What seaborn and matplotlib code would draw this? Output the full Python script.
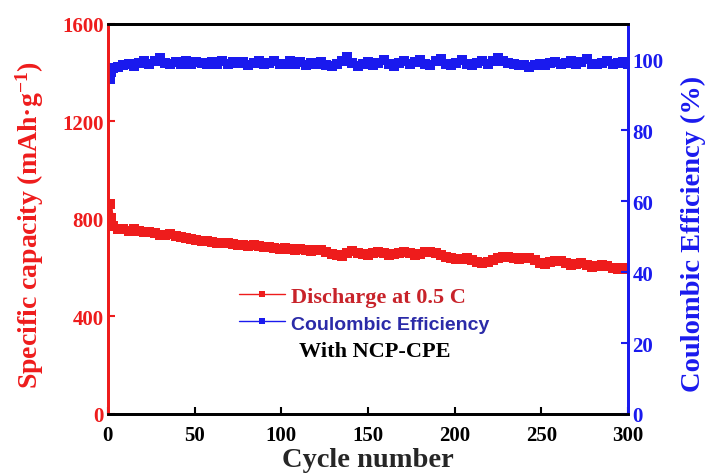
import matplotlib
matplotlib.use("Agg")
import matplotlib.pyplot as plt
import seaborn as sns

# cycle numbers
cycles = [1, 2, 3] + list(range(6, 301, 3))

# discharge capacity at 0.5 C (mAh/g)
capacity = [862, 805, 770,
            760, 757, 752, 757, 752, 745, 748, 743, 736, 733,
            738, 731, 725, 722, 718, 714, 710, 708, 706, 703,
            700, 702, 697, 694, 692, 690, 692, 687, 684, 686,
            681, 678, 680, 676, 673, 676, 672, 669, 674, 671,
            664, 658, 652, 648, 660, 668, 662, 655, 652, 662,
            666, 660, 650, 655, 662, 665, 660, 650, 655, 664,
            666, 660, 650, 642, 638, 634, 636, 640, 630, 624,
            620, 622, 630, 640, 644, 642, 638, 634, 638, 640,
            630, 620, 616, 622, 628, 626, 618, 612, 615, 620,
            612, 604, 606, 612, 606, 598, 596, 600, 594]

# coulombic efficiency (%)
efficiency = [94.5, 96.5, 97.5,
              97.8, 98.3, 98.8, 98.2, 99.0, 99.6, 98.6, 99.4, 100.3, 99.0,
              98.6, 99.1, 98.8, 99.5, 98.7, 99.2, 98.9, 98.6, 99.2, 98.8,
              99.4, 98.7, 99.1, 98.9, 99.3, 98.5, 99.0, 99.6, 98.7, 99.0,
              99.4, 98.6, 98.8, 99.5, 98.7, 99.1, 98.4, 99.0, 98.6, 99.2,
              98.5, 98.0, 98.6, 99.4, 100.6, 99.0, 98.2, 98.8, 99.3, 98.5,
              99.0, 99.8, 98.6, 98.2, 99.0, 99.6, 98.7, 99.2, 99.8, 98.6,
              98.3, 99.4, 100.2, 98.8, 98.5, 99.0, 99.9, 98.7, 98.3, 99.0,
              99.4, 98.6, 99.4, 100.5, 99.6, 98.9, 98.6, 98.3, 98.5, 97.9,
              98.4, 98.8, 98.5, 98.9, 99.3, 98.7, 99.0, 99.4, 98.8, 99.2,
              100.0, 98.8, 98.6, 99.0, 99.4, 98.7, 98.9, 99.1, 98.8]

red = "#ee1c1c"
blue = "#1a1aee"

sns.set_style("ticks")
plt.rcParams["font.family"] = ["Liberation Serif", "DejaVu Serif"]
plt.rcParams["font.weight"] = "bold"
plt.rcParams["mathtext.fontset"] = "custom"
plt.rcParams["mathtext.rm"] = "Liberation Serif:bold"
plt.rcParams["mathtext.bf"] = "Liberation Serif:bold"
plt.rcParams["mathtext.it"] = "Liberation Serif:bold"

fig, ax = plt.subplots(figsize=(7.05, 4.77), dpi=100)
fig.subplots_adjust(left=0.153, right=0.891, bottom=0.130, top=0.948)
ax2 = ax.twinx()

sns.lineplot(x=cycles, y=capacity, ax=ax, color=red, marker="s",
             markersize=6.5, markeredgewidth=0, linewidth=3.5,
             label="Discharge at 0.5 C", legend=False)
sns.lineplot(x=cycles, y=efficiency, ax=ax2, color=blue, marker="s",
             markersize=6.5, markeredgewidth=0, linewidth=3.5,
             label="Coulombic Efficiency", legend=False)

ax.set_xlim(0, 300)
ax.set_ylim(0, 1600)
ax2.set_ylim(0, 110)
ax.set_xticks([0, 50, 100, 150, 200, 250, 300])
ax.set_yticks([0, 400, 800, 1200, 1600])
ax2.set_yticks([0, 20, 40, 60, 80, 100])

ax.set_xlabel("Cycle number", fontsize=20.5, fontweight="bold")
ax.set_ylabel("Specific capacity (mAh·g$^{-1}$)", fontsize=20,
              fontweight="bold", color=red)
ax2.set_ylabel("Coulombic Efficiency (%)", fontsize=20.5, fontweight="bold",
               color=blue)
ax.xaxis.set_label_coords(0.5, -0.085)
ax.yaxis.set_label_coords(-0.118, 0.487)
ax2.yaxis.set_label_coords(1.101, 0.464)

ax.tick_params(axis="x", direction="in", length=5, width=1.5,
               labelsize=15, colors="black", pad=8)
ax.tick_params(axis="y", direction="in", length=5, width=1.5,
               labelsize=15, colors=red, pad=3)
ax2.tick_params(axis="y", direction="in", length=5, width=1.5,
                labelsize=15, colors=blue, pad=3)

for a in (ax, ax2):
    for side in ("top", "bottom"):
        a.spines[side].set_color("black")
        a.spines[side].set_linewidth(2)
    a.spines["left"].set_color(red)
    a.spines["right"].set_color(blue)
    a.spines["left"].set_linewidth(2)
    a.spines["right"].set_linewidth(2)
    a.spines["left"].set_visible(True)
    a.spines["right"].set_visible(True)
    a.spines["top"].set_visible(True)

h1, l1 = ax.get_legend_handles_labels()
h2, l2 = ax2.get_legend_handles_labels()
leg = ax2.legend(h1 + h2, l1 + l2, loc="upper left",
                 bbox_to_anchor=(0.213, 0.378), frameon=False,
                 handlelength=2.1, handletextpad=0.25, labelspacing=0.3,
                 prop={"size": 16, "weight": "bold"})
for line in leg.get_lines():
    line.set_linewidth(1)
    line.set_markersize(4)
texts = leg.get_texts()
texts[0].set_color("#c8232a")
texts[1].set_color("#2b2ba8")
texts[1].set_fontfamily(["Liberation Sans", "DejaVu Sans"])
texts[1].set_fontsize(14)

ax2.text(0.512, 0.162, "With NCP-CPE", transform=ax2.transAxes,
         ha="center", va="center", fontsize=16, fontweight="bold",
         color="black")

fig.savefig("out.png", dpi=100)
